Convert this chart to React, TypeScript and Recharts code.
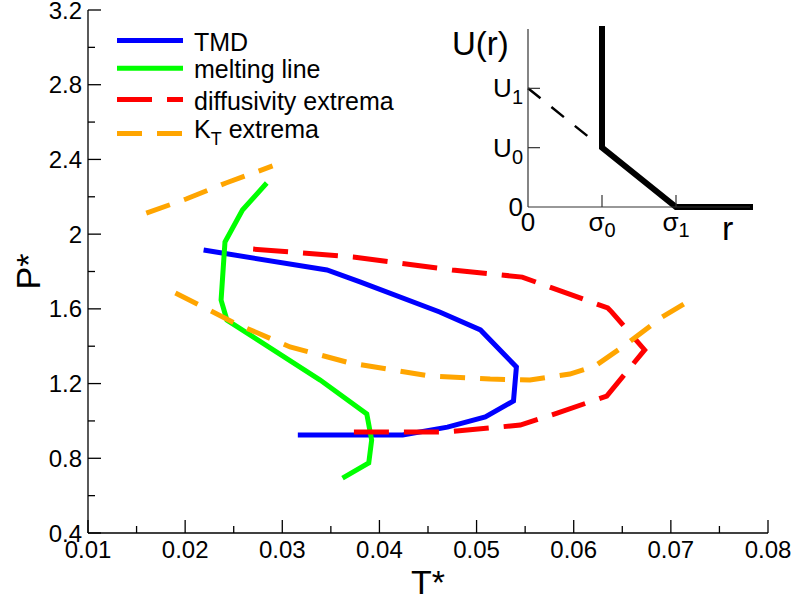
import { Line, LineChart, XAxis, YAxis } from "recharts";

// [T*, P*] points for each curve
const tmdLine: [number, number][] = [
  [0.0219, 1.915], [0.0346, 1.808], [0.038, 1.744], [0.0462, 1.583], [0.0504, 1.487],
  [0.0541, 1.289], [0.0538, 1.107], [0.0509, 1.021], [0.047, 0.967], [0.0424, 0.925], [0.0316, 0.925],
];
const meltingLine: [number, number][] = [
  [0.0284, 2.274], [0.0259, 2.129], [0.0241, 1.958], [0.0237, 1.647], [0.0243, 1.54],
  [0.0339, 1.219], [0.0387, 1.037], [0.0392, 0.898], [0.0389, 0.775], [0.0362, 0.694],
];
const diffusivityExtrema: [number, number][] = [
  [0.027, 1.92], [0.0373, 1.878], [0.0475, 1.808], [0.0547, 1.77], [0.0635, 1.605], [0.0639, 1.584],
  [0.0673, 1.38], [0.0634, 1.133], [0.0583, 1.042], [0.0545, 0.978], [0.047, 0.941], [0.0362, 0.941],
];
const ktMaxima: [number, number][] = [
  [0.016, 2.113], [0.0201, 2.188], [0.0242, 2.274], [0.029, 2.365],
];
const ktMinima: [number, number][] = [
  [0.019, 1.685], [0.0251, 1.524], [0.0308, 1.396], [0.037, 1.31], [0.0452, 1.24], [0.0514, 1.224],
  [0.0555, 1.219], [0.0596, 1.251], [0.0622, 1.294], [0.0653, 1.406], [0.0691, 1.556], [0.072, 1.647],
];

const xMajor = [0.01, 0.02, 0.03, 0.04, 0.05, 0.06, 0.07, 0.08];
const xMinor = [0.015, 0.025, 0.035, 0.045, 0.055, 0.065, 0.075];
const yMajor = [0.4, 0.8, 1.2, 1.6, 2, 2.4, 2.8, 3.2];
const yMinor = [0.6, 1.0, 1.4, 1.8, 2.2, 2.6, 3.0];

// inset: square-shoulder potential U(r)
const stepR = [1, 1, 2, 3];
const stepU = [3, 1, 0, 0];
const rampR = [0, 0.83];
const rampU = [2, 1.17];
const insetTicks = [0, 1, 2];
const rLabels = ["0", "σ0", "σ1"];
const uLabels = ["0", "U0", "U1"];

const FONT = '"Liberation Sans", Arial, Helvetica, sans-serif';
const AXIS = { stroke: "#000", strokeWidth: 1.3 };
const INSET_AXIS = { stroke: "#333", strokeWidth: 1.2 };

// plot frame edges (main chart and inset, the inset in its own svg)
const MAIN = { left: 88, right: 768, top: 10, bottom: 533 };
const INSET = { left: 88, right: 310, top: 29, bottom: 207 };

const toPoints = (pts: [number, number][]) => pts.map(([t, p]) => ({ t, p }));
const xTicks = [...xMajor, ...xMinor].sort((a, b) => a - b);
const yTicks = [...yMajor, ...yMinor].sort((a, b) => a - b);
const onStep = (v: number, step: number) => Math.abs(v / step - Math.round(v / step)) < 1e-6;

const BottomTick = ({ x, y, payload }: any) => {
  const major = onStep(payload.value, 0.01);
  return (
    <g>
      <line x1={x} x2={x} y1={MAIN.bottom} y2={MAIN.bottom - (major ? 13 : 7)} {...AXIS} />
      {major && (
        <text x={x} y={y} dy="0.71em" textAnchor="middle" fontSize={24} fontFamily={FONT} fill="#000">
          {payload.value.toFixed(2)}
        </text>
      )}
    </g>
  );
};

const TopTick = ({ x, payload }: any) => {
  const major = onStep(payload.value, 0.01);
  return <line x1={x} x2={x} y1={MAIN.top} y2={MAIN.top + (major ? 13 : 7)} {...AXIS} />;
};

const LeftTick = ({ x, y, payload }: any) => {
  const major = onStep(payload.value, 0.4);
  return (
    <g>
      <line x1={MAIN.left} x2={MAIN.left + (major ? 13 : 7)} y1={y} y2={y} {...AXIS} />
      {major && (
        <text x={x} y={y} dy="0.355em" textAnchor="end" fontSize={24} fontFamily={FONT} fill="#000">
          {String(Number(payload.value.toFixed(1)))}
        </text>
      )}
    </g>
  );
};

const RightTick = ({ y, payload }: any) => {
  const major = onStep(payload.value, 0.4);
  return <line x1={MAIN.right} x2={MAIN.right - (major ? 13 : 7)} y1={y} y2={y} {...AXIS} />;
};

// label with a trailing subscript character, e.g. σ0, U1
const SubText = ({ label, sub, subDy }: { label: string; sub: number; subDy: number }) =>
  label.length > 1 ? (
    <>
      {label[0]}
      <tspan fontSize={sub} dy={subDy}>
        {label.slice(1)}
      </tspan>
    </>
  ) : (
    <>{label}</>
  );

const InsetBottomTick = ({ x, y, payload, index }: any) => (
  <g>
    {payload.value > 0 && <line x1={x} x2={x} y1={INSET.bottom} y2={INSET.bottom - 12} {...INSET_AXIS} />}
    <text x={x} y={y} dy="0.71em" textAnchor="middle" fontSize={26} fontFamily={FONT} fill="#000">
      <SubText label={rLabels[index]} sub={20} subDy={6} />
    </text>
  </g>
);

const InsetLeftTick = ({ x, y, payload, index }: any) => (
  <g>
    {payload.value > 0 && <line x1={INSET.left} x2={INSET.left + 12} y1={y} y2={y} {...INSET_AXIS} />}
    <text x={x} y={y + 9} textAnchor="end" fontSize={26} fontFamily={FONT} fill="#000">
      <SubText label={uLabels[index]} sub={20} subDy={7} />
    </text>
  </g>
);

const InsetTopTick = ({ x, payload }: any) =>
  payload.value > 0 ? <line x1={x} x2={x} y1={INSET.top} y2={INSET.top + 12} {...INSET_AXIS} /> : <g />;

const InsetRightTick = ({ y, payload }: any) =>
  payload.value > 0 ? <line x1={INSET.right} x2={INSET.right - 12} y1={y} y2={y} {...INSET_AXIS} /> : <g />;

const legendRows = [
  { label: "TMD", color: "#0000ff", dash: undefined, y: 40.5 },
  { label: "melting line", color: "#00ff00", dash: undefined, y: 68.3 },
  { label: "diffusivity extrema", color: "#ff0000", dash: "35 15", y: 99.5 },
  { label: "KT extrema", color: "#ffa500", dash: "25 15", y: 133.5 },
];

const Legend = () => (
  <svg width={420} height={160} style={{ position: "absolute", left: 0, top: 0 }}>
    {legendRows.map((row) => (
      <g key={row.label}>
        <line x1={117} x2={183} y1={row.y} y2={row.y} stroke={row.color} strokeWidth={5} strokeDasharray={row.dash} />
        {row.label === "KT extrema" ? (
          <text x={194} y={row.y + 4.5} fontSize={25} fontFamily={FONT} fill="#000">
            K
            <tspan fontSize={18} dy={7}>
              T
            </tspan>
            <tspan dy={-7}> extrema</tspan>
          </text>
        ) : (
          <text x={194} y={row.y + 10} fontSize={25} fontFamily={FONT} fill="#000">
            {row.label}
          </text>
        )}
      </g>
    ))}
  </svg>
);

const Inset = () => {
  const step = stepR.map((r, i) => ({ r, u: stepU[i] }));
  const ramp = rampR.map((r, i) => ({ r, u: rampU[i] }));
  return (
    <div style={{ position: "absolute", left: 440, top: 0 }}>
      <LineChart width={357} height={260} margin={{ top: INSET.top, right: 357 - INSET.right, bottom: 0, left: 0 }}>
        <XAxis
          xAxisId="r"
          type="number"
          dataKey="r"
          domain={[0, 3]}
          ticks={insetTicks}
          interval={0}
          height={260 - INSET.bottom}
          tickSize={0}
          tickMargin={6}
          tick={<InsetBottomTick />}
          axisLine={INSET_AXIS}
          label={({ viewBox }: any) => (
            <text x={viewBox.x + 194} y={viewBox.y + 33} fontSize={34} fontFamily={FONT} fill="#000">
              r
            </text>
          )}
        />
        <XAxis
          xAxisId="rTop"
          orientation="top"
          type="number"
          domain={[0, 3]}
          ticks={insetTicks}
          interval={0}
          height={0}
          tickSize={0}
          tickMargin={0}
          tick={<InsetTopTick />}
          axisLine={INSET_AXIS}
        />
        <YAxis
          yAxisId="u"
          type="number"
          domain={[0, 3]}
          ticks={insetTicks}
          interval={0}
          width={INSET.left}
          tickSize={0}
          tickMargin={5}
          tick={<InsetLeftTick />}
          axisLine={INSET_AXIS}
          label={({ viewBox }: any) => (
            <text x={viewBox.x + 12} y={viewBox.y + 26} fontSize={33} fontFamily={FONT} fill="#000">
              U(r)
            </text>
          )}
        />
        <YAxis
          yAxisId="uRight"
          orientation="right"
          type="number"
          domain={[0, 3]}
          ticks={insetTicks}
          interval={0}
          width={0}
          tickSize={0}
          tickMargin={0}
          tick={<InsetRightTick />}
          axisLine={INSET_AXIS}
        />
        <Line
          xAxisId="r"
          yAxisId="u"
          data={ramp}
          dataKey="u"
          type="linear"
          stroke="#000"
          strokeWidth={2.5}
          strokeDasharray="16 14"
          dot={false}
          isAnimationActive={false}
        />
        <Line
          xAxisId="r"
          yAxisId="u"
          data={step}
          dataKey="u"
          type="linear"
          stroke="#000"
          strokeWidth={6}
          strokeLinecap="square"
          dot={false}
          isAnimationActive={false}
        />
      </LineChart>
    </div>
  );
};

export default function App() {
  return (
    <div style={{ position: "absolute", left: 0, top: 0, width: 797, height: 599, background: "#fff" }}>
      <LineChart width={797} height={599} margin={{ top: MAIN.top, right: 797 - MAIN.right, bottom: 0, left: 0 }}>
        <XAxis
          type="number"
          dataKey="t"
          domain={[0.01, 0.08]}
          ticks={xTicks}
          interval={0}
          height={599 - MAIN.bottom}
          tickSize={0}
          tickMargin={8}
          tick={<BottomTick />}
          axisLine={AXIS}
          label={({ viewBox }: any) => (
            <text x={viewBox.x + viewBox.width / 2} y={viewBox.y + 61} textAnchor="middle" fontSize={34} fontFamily={FONT} fill="#000">
              T*
            </text>
          )}
        />
        <XAxis
          xAxisId="top"
          orientation="top"
          type="number"
          domain={[0.01, 0.08]}
          ticks={xTicks}
          interval={0}
          height={0}
          tickSize={0}
          tickMargin={0}
          tick={<TopTick />}
          axisLine={AXIS}
        />
        <YAxis
          type="number"
          domain={[0.4, 3.2]}
          ticks={yTicks}
          interval={0}
          width={MAIN.left}
          tickSize={0}
          tickMargin={6}
          tick={<LeftTick />}
          axisLine={AXIS}
          label={({ viewBox }: any) => {
            const cx = viewBox.x + 40;
            const cy = viewBox.y + viewBox.height / 2;
            return (
              <text x={cx} y={cy} transform={`rotate(-90 ${cx} ${cy})`} textAnchor="middle" fontSize={34} fontFamily={FONT} fill="#000">
                P*
              </text>
            );
          }}
        />
        <YAxis
          yAxisId="right"
          orientation="right"
          type="number"
          domain={[0.4, 3.2]}
          ticks={yTicks}
          interval={0}
          width={0}
          tickSize={0}
          tickMargin={0}
          tick={<RightTick />}
          axisLine={AXIS}
        />
        <Line data={toPoints(tmdLine)} dataKey="p" type="linear" stroke="#0000ff" strokeWidth={5} dot={false} isAnimationActive={false} />
        <Line data={toPoints(meltingLine)} dataKey="p" type="linear" stroke="#00ff00" strokeWidth={5} dot={false} isAnimationActive={false} />
        <Line
          data={toPoints(diffusivityExtrema)}
          dataKey="p"
          type="linear"
          stroke="#ff0000"
          strokeWidth={5}
          strokeDasharray="35 15"
          dot={false}
          isAnimationActive={false}
        />
        <Line
          data={toPoints(ktMaxima)}
          dataKey="p"
          type="linear"
          stroke="#ffa500"
          strokeWidth={5}
          strokeDasharray="25 15"
          dot={false}
          isAnimationActive={false}
        />
        <Line
          data={toPoints(ktMinima)}
          dataKey="p"
          type="linear"
          stroke="#ffa500"
          strokeWidth={5}
          strokeDasharray="25 15"
          dot={false}
          isAnimationActive={false}
        />
      </LineChart>
      <Legend />
      <Inset />
    </div>
  );
}
